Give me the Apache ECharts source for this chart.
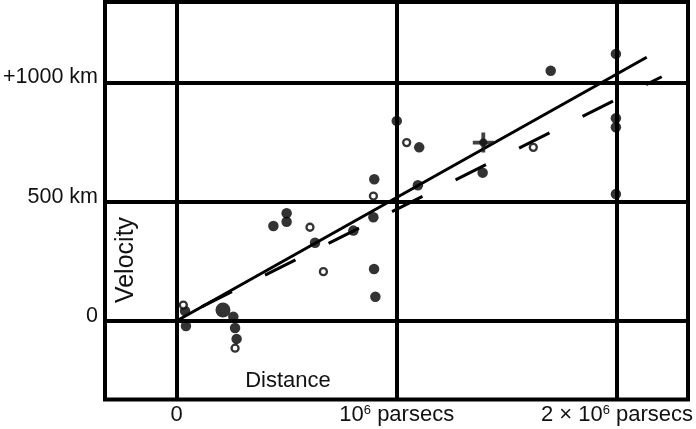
<!DOCTYPE html>
<html>
<head>
<meta charset="utf-8">
<script src="https://cdn.jsdelivr.net/npm/echarts@6/dist/echarts.min.js"></script>
<style>html,body{margin:0;padding:0;background:#fff;}#chart{width:696px;height:429px;}</style>
</head>
<body>
<div id="chart"></div>
<script>
// ---- data (distance in 10^6 parsecs, velocity in km/s) ----
const filledDist = [0.039, 0.043, 0.258, 0.266, 0.273, 0.440, 0.500, 0.500, 0.629, 0.803, 0.894, 0.897, 0.903, 0.898, 1.000, 1.102, 1.096, 1.390, 1.699, 1.995, 1.995, 1.995, 1.995];
const filledVel  = [42, -21, 18, -29, -75, 398, 452, 416, 328, 379, 435, 218, 102, 594, 839, 728, 569, 622, 1049, 1120, 850, 812, 532];
const openDist = [0.031, 0.266, 0.606, 0.667, 0.894, 1.045, 1.620];
const openVel  = [67, -114, 393, 207, 524, 748, 728];
const bigDist = [0.211];
const bigVel  = [46];
const crossDist = [1.393];
const crossVel  = [748];
const solidFitDist = [0, 2.135];
const solidFitVel  = [0, 1106];
const dashFitDist = [0, 2.203];
const dashFitVel  = [7, 1024];
const xTickValues = [0, 1, 2];
const xTickLabels = ['0', '10⁶ parsecs', '2 × 10⁶ parsecs'];
const yTickValues = [0, 500, 1000];
const yTickLabels = ['0', '500 km', '+1000 km'];
const xAxisTitle = 'Distance';
const yAxisTitle = 'Velocity';

const zip = (a, b) => a.map((v, i) => [v, b[i]]);
const FONT = '"Liberation Sans", Arial, sans-serif';
const richLabel = s => s.split('⁶').map((p, i) => (i > 0 ? '{s|6}' : '') + (p ? '{n|' + p + '}' : '')).join('');

const chart = echarts.init(document.getElementById('chart'), null, {renderer: 'canvas'});
const plusPath = 'path://M9,0 L13,0 L13,9 L22,9 L22,13 L13,13 L13,22 L9,22 L9,13 L0,13 L0,9 L9,9 Z';

chart.setOption({
  animation: false,
  backgroundColor: '#fff',
  grid: {
    left: 105, right: 8, top: 2, bottom: 29.5,
    show: true, borderColor: '#000', borderWidth: 4, backgroundColor: 'transparent',
    containLabel: false, outerBoundsMode: 'none'
  },
  xAxis: {
    type: 'value', min: -0.3246, max: 2.3224,
    axisLine: {show: false}, axisTick: {show: false}, splitLine: {show: false},
    axisLabel: {
      customValues: xTickValues,
      margin: 4,
      color: '#111',
      fontFamily: FONT,
      formatter: v => { const i = xTickValues.indexOf(v); return i < 0 ? '' : richLabel(xTickLabels[i]); },
      rich: {
        n: {fontSize: 22, fontFamily: FONT, color: '#111'},
        s: {fontSize: 13, fontFamily: FONT, color: '#111', verticalAlign: 'top'}
      }
    }
  },
  yAxis: {
    type: 'value', min: -329.1, max: 1337.5,
    axisLine: {show: false}, axisTick: {show: false}, splitLine: {show: false},
    axisLabel: {
      customValues: yTickValues,
      margin: 7,
      color: '#111',
      fontFamily: FONT,
      formatter: v => { const i = yTickValues.indexOf(v); return i < 0 ? '' : '{a|' + yTickLabels[i] + '}'; },
      rich: {
        a: {fontSize: 21.5, fontFamily: FONT, color: '#111', padding: [0, 0, 10, 0]}
      }
    }
  },
  graphic: [
    {type: 'text', x: 126, y: 260, rotation: Math.PI / 2,
      style: {text: yAxisTitle, font: '25px ' + FONT, fill: '#111', align: 'center', verticalAlign: 'middle'}},
    {type: 'text', x: 288, y: 381,
      style: {text: xAxisTitle, font: '22px ' + FONT, fill: '#111', align: 'center', verticalAlign: 'middle'}}
  ],
  series: [
    {
      type: 'line', data: zip(solidFitDist, solidFitVel), symbol: 'none',
      lineStyle: {color: '#000', width: 3}, z: 3, silent: true,
      markLine: {
        silent: true, symbol: ['none', 'none'], label: {show: false},
        lineStyle: {color: '#000', width: 4, type: 'solid'},
        data: xTickValues.map(v => ({xAxis: v})).concat(yTickValues.map(v => ({yAxis: v})))
      }
    },
    {
      type: 'line', data: zip(dashFitDist, dashFitVel), symbol: 'none', z: 3, silent: true,
      lineStyle: {color: '#000', width: 3, type: [34, 37], dashOffset: 43}
    },
    {
      type: 'scatter', data: zip(filledDist, filledVel), symbol: 'circle', symbolSize: 10.5,
      itemStyle: {color: '#000'}, z: 4
    },
    {
      type: 'scatter', data: zip(openDist, openVel), symbol: 'circle', symbolSize: 7,
      itemStyle: {color: '#fff', borderColor: '#000', borderWidth: 2.3}, z: 4
    },
    {
      type: 'scatter', data: zip(bigDist, bigVel), symbol: 'circle', symbolSize: 15,
      itemStyle: {color: '#000'}, z: 4
    },
    {
      type: 'scatter', data: zip(crossDist, crossVel), symbol: plusPath, symbolSize: [21, 20],
      itemStyle: {color: '#111'}, z: 5
    },
    {
      type: 'scatter', data: zip(crossDist, crossVel), symbol: 'circle', symbolSize: 8,
      itemStyle: {color: '#111'}, z: 5
    }
  ]
});
</script>
</body>
</html>
